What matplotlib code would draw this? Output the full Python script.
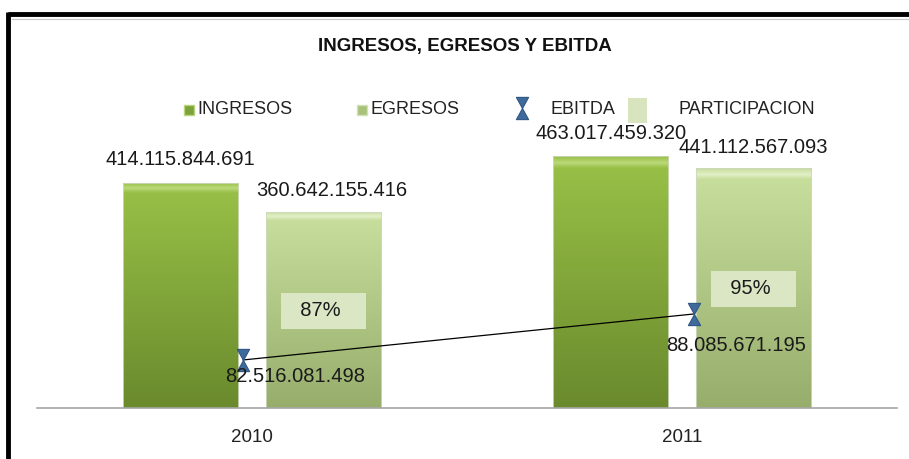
import numpy as np
import matplotlib
matplotlib.use("Agg")
import matplotlib.pyplot as plt
from matplotlib.colors import LinearSegmentedColormap
from matplotlib.lines import Line2D
from matplotlib.patches import Rectangle
from matplotlib.path import Path

years = ["2010", "2011"]
ingresos = [414115844691, 463017459320]
egresos = [360642155416, 441112567093]
ebitda = [82516081498, 88085671195]
participacion = [0.87, 0.95]

def fmt(v):
    return f"{v:,}".replace(",", ".")

plt.rcParams["font.family"] = ["Liberation Sans", "DejaVu Sans"]

W, H = 909, 459
fig = plt.figure(figsize=(W / 100, H / 100), dpi=100)

# plot area in pixels
L, R, B, T = 37, 897, 408, 130
rect = [L / W, 1 - B / H, (R - L) / W, (B - T) / H]
ax = fig.add_axes(rect)
ax.set_xlim(-0.5, 1.5)
ax.set_ylim(0, 511e9)
for s in ["left", "right", "top"]:
    ax.spines[s].set_visible(False)
ax.spines["bottom"].set_color("#a6a6a6")
ax.spines["bottom"].set_linewidth(1.2)
ax.set_yticks([])
x = np.arange(len(years))
ax.set_xticks(x)
ax.set_xticklabels(years, fontsize=13.5, color="#222222")
ax.tick_params(axis="x", length=0, pad=15)
ax.set_facecolor("none")


def grad_bars(xs, vals, width, bottom_c, top_c, bevel_c):
    bars = ax.bar(xs, vals, width, color="none", edgecolor="#cfd8c0", linewidth=0.6, zorder=2)
    cmap = LinearSegmentedColormap.from_list(
        "g", [(0, bottom_c), (0.955, top_c), (0.975, bevel_c), (1.0, top_c)])
    grad = np.linspace(0, 1, 256)[:, None]
    for b in bars:
        x0, w, h = b.get_x(), b.get_width(), b.get_height()
        im = ax.imshow(grad, extent=[x0, x0 + w, 0, h], origin="lower",
                       cmap=cmap, aspect="auto", zorder=1.5)
        im.set_clip_path(b)
    return bars

bw = 0.268
off = 0.166
b1 = grad_bars(x - off, ingresos, bw, "#6a8a2d", "#97bf46", "#bcd97a")
b2 = grad_bars(x + off, egresos, bw, "#97ad6b", "#c6dd9c", "#e3f0c8")
ax.set_xlim(-0.5, 1.5)
ax.set_ylim(0, 511e9)

lab_kw = dict(fontsize=14.5, color="#1a1a1a", ha="center", va="center",
              textcoords="offset pixels", zorder=6)
for b, v in zip(b1, ingresos):
    ax.annotate(fmt(v), (b.get_x() + b.get_width() / 2, v), xytext=(0, 23), **lab_kw)
for b, v, dx in zip(b2, egresos, [8, 0]):
    ax.annotate(fmt(v), (b.get_x() + b.get_width() / 2, v), xytext=(dx, 21), **lab_kw)

# participation labels (own scale)
ax3 = fig.add_axes(rect, frameon=False)
ax3.set_xlim(-0.5, 1.5)
ax3.set_ylim(0.517, 1.528)
ax3.set_xticks([])
ax3.set_yticks([])
for xi, p in zip(x + off, participacion):
    ax3.text(xi, p, f"  {p:.0%}   ", fontsize=14.5, color="#1a1a1a",
             ha="center", va="center", zorder=5,
             bbox=dict(boxstyle="square,pad=0.42", fc="#dae6c4", ec="none"))

# EBITDA on secondary scale
hourglass = Path([(-0.55, 1), (0.55, 1), (-0.55, -1), (0.55, -1), (-0.55, 1)],
                 [Path.MOVETO, Path.LINETO, Path.LINETO, Path.LINETO, Path.CLOSEPOLY])
ax2 = fig.add_axes(rect, frameon=False)
ax2.set_xlim(-0.457, 1.45)
ax2.set_ylim(76.7e9, 76.7e9 + 278 / 8.26e-9)
ax2.set_xticks([])
ax2.set_yticks([])
ax2.plot(x, ebitda, color="black", linewidth=0.9, zorder=3)
ax2.plot(x, ebitda, linestyle="none", marker=hourglass, markersize=16,
         color="#3f6a9c", markeredgecolor="#2f5684", markeredgewidth=0.8, zorder=4)
for xi, v, d in zip(x, ebitda, [(52, -17), (42, -32)]):
    ax2.annotate(fmt(v), (xi, v), xytext=d, **lab_kw)

# title
fig.text(465 / W, 1 - 47 / H, "INGRESOS, EGRESOS Y EBITDA",
         weight="bold", fontsize=13.5, ha="center", va="center", color="#111111")

# legend drawn by hand
ly = 1 - 110 / H
leg_fs = 13
fig.add_artist(Line2D([189 / W], [ly], marker="s", markersize=7, color="#7ca33a",
                      markeredgecolor="#b9d47c", markeredgewidth=1, transform=fig.transFigure))
fig.text(197 / W, ly, "INGRESOS", fontsize=leg_fs, va="center", color="#222222")
fig.add_artist(Line2D([362 / W], [ly], marker="s", markersize=7, color="#a9c27a",
                      markeredgecolor="#d2e2b4", markeredgewidth=1, transform=fig.transFigure))
fig.text(370 / W, ly, "EGRESOS", fontsize=leg_fs, va="center", color="#222222")
fig.add_artist(Line2D([522 / W], [ly + 2 / H], marker=hourglass, markersize=16,
                      color="#3f6a9c", markeredgecolor="#2f5684", markeredgewidth=0.8,
                      transform=fig.transFigure))
fig.text(551 / W, ly, "EBITDA", fontsize=leg_fs, va="center", color="#222222")
fig.add_artist(Rectangle((628 / W, 1 - 123 / H), 19 / W, 25 / H, fc="#d7e4bd", ec="none",
                         transform=fig.transFigure))
fig.text(678 / W, ly, "PARTICIPACION", fontsize=leg_fs, va="center", color="#222222")

# outer frame
fig.add_artist(Line2D([8 / W, 1], [1 - 14 / H, 1 - 14 / H], color="black", linewidth=3.5,
                      transform=fig.transFigure, solid_capstyle="butt"))
fig.add_artist(Line2D([8 / W, 8 / W], [1 - 12 / H, 0], color="black", linewidth=3.5,
                      transform=fig.transFigure, solid_capstyle="butt"))
fig.add_artist(Line2D([12 / W, 1], [1 - 18.5 / H, 1 - 18.5 / H], color="#c8c8c8", linewidth=0.8,
                      transform=fig.transFigure))

fig.savefig("out.png", dpi=100)
